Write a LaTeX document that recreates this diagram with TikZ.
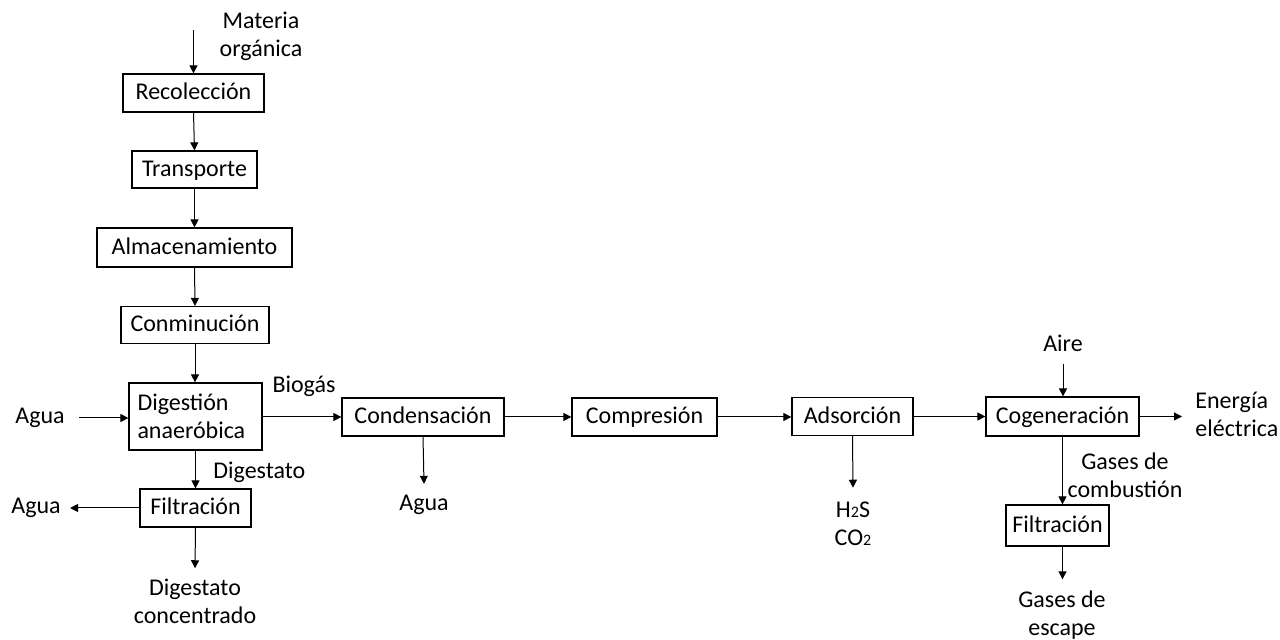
\documentclass[tikz,border=0pt]{standalone}
\usepackage{fontspec}
\setmainfont{Carlito}
\usetikzlibrary{arrows.meta}
\begin{document}
\begin{tikzpicture}[x=0.5pt,y=-0.5pt,
  every node/.style={font=\fontsize{12}{14}\selectfont},
  pbox/.style={draw, line width=0.6pt, inner sep=0pt, align=center},
  sbox/.style={pbox, text height=9pt, text depth=2pt},
  lbl/.style={inner sep=0pt, align=center},
  flow/.style={line width=0.5pt, -{Triangle[width=4pt,length=4pt]}}]
\useasboundingbox (0,0) rectangle (1280,640);
% process boxes
\node[sbox, minimum width=70.5pt, minimum height=19pt] (rec) at (193.5,93) {Recolección};
\node[sbox, minimum width=62.5pt, minimum height=18.5pt] (tra) at (194.5,169.5) {Transporte};
\node[sbox, minimum width=97.5pt, minimum height=19.5pt] (alm) at (194.5,247.5) {Almacenamiento};
\node[sbox, minimum width=74pt, minimum height=18.5pt] (con) at (195,325) {Conminución};
\node[pbox, align=left, minimum width=66.5pt, minimum height=33.5pt, text width=58pt] (dig) at (195.5,416.5) {Digestión\\anaeróbica};
\node[sbox, minimum width=55.5pt, minimum height=19pt] (fil1) at (195.5,508) {Filtración};
\node[sbox, minimum width=81pt, minimum height=19pt] (cond) at (423,417) {Condensación};
\node[sbox, minimum width=72.5pt, minimum height=19pt] (comp) at (644.5,417) {Compresión};
\node[sbox, minimum width=60.5pt, minimum height=19pt] (ads) at (852.5,416.5) {Adsorción};
\node[sbox, minimum width=76.5pt, minimum height=19.5pt] (cog) at (1062.5,416.5) {Cogeneración};
\node[sbox, minimum width=51.5pt, minimum height=20.5pt] (fil2) at (1057.5,525.5) {Filtración};
% labels
\node[lbl] (mat) at (261,36) {Materia\\orgánica};
\coordinate (matin) at (193.5,30);
\node[lbl] (aguain) at (40,418) {Agua};
\node[lbl] (aguaout) at (36,508) {Agua};
\node[lbl, anchor=west] (dgt) at (213,472) {Digestato};
\node[lbl] (digc) at (195,601) {Digestato\\concentrado};
\node[lbl] (biog) at (304,386) {Biogás};
\node[lbl] (agua2) at (424,505) {Agua};
\node[lbl] (gas) at (853,524) {H{\fontsize{8}{8}\selectfont 2}S\\CO{\fontsize{8}{8}\selectfont 2}};
\node[lbl] (aire) at (1063,343) {Aire};
\node[lbl, align=left, anchor=west] (ener) at (1195,414) {Energía\\eléctrica};
\node[lbl] (gcomb) at (1125,475) {Gases de\\combustión};
\node[lbl] (gesc) at (1062,615) {Gases de\\escape};
% connectors
\draw[flow] (matin) -- (rec.north);
\draw[flow] (rec.south) -- (tra.north);
\draw[flow] (tra.south) -- (alm.north);
\draw[flow] (alm.south) -- (con.north);
\draw[flow] (con.south) -- (con.south |- dig.north);
\draw[flow] ([xshift=7pt]aguain.east) -- (aguain.east -| dig.west);
\draw[flow] (dig.south) -- (dig.south |- fil1.north);
\draw[flow] (fil1.west) -- ([xshift=4.5pt]aguaout.east |- fil1.west);
\draw[flow] (fil1.south) -- ([yshift=5pt]digc.north);
\draw[flow] (dig.east |- cond.west) -- (cond.west);
\draw[flow] (cond.south) -- ([yshift=5.5pt]agua2.north);
\draw[flow] (cond.east) -- (comp.west);
\draw[flow] (comp.east) -- (comp.east -| ads.west);
\draw[flow] (ads.south) -- ([yshift=7pt]gas.north);
\draw[flow] (ads.east) -- (cog.west);
\draw[flow] ([yshift=-6pt]aire.south) -- (aire.south |- cog.north);
\draw[flow] (cog.east) -- ([xshift=-6.5pt]ener.west |- cog.east);
\draw[flow] (cog.south) -- (cog.south |- fil2.north);
\draw[flow] (cog.south |- fil2.south) -- ([yshift=5.5pt]cog.south |- gesc.north);
\end{tikzpicture}
\end{document}
